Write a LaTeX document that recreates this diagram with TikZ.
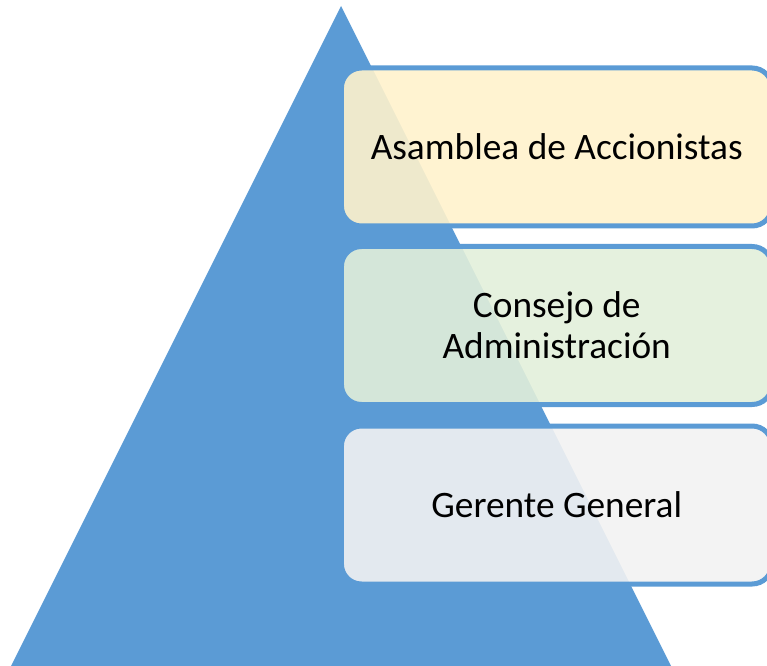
\documentclass[tikz,border=0pt]{standalone}
\usepackage{fontspec}
\setmainfont{Carlito}
\usetikzlibrary{positioning}

\definecolor{piramide}{RGB}{91,155,213}
\definecolor{amarillo}{RGB}{255,242,204}
\definecolor{verde}{RGB}{226,239,218}
\definecolor{gris}{RGB}{242,242,242}

\tikzset{
  nivel/.style={draw=piramide, line width=3.75pt, rounded corners=15pt,
    minimum width=323pt, minimum height=118.5pt, align=center,
    fill opacity=0.9, text opacity=1, inner sep=0.75pt,
    font=\fontsize{28}{31}\selectfont}
}

\begin{document}
\begin{tikzpicture}[x=0.75pt,y=0.75pt,yscale=-1,xscale=1]
\useasboundingbox (0,0) rectangle (767,666);
\clip (0,0) rectangle (767,666);
% Piramide
\fill [piramide] (341,6) -- (11,666) -- (671,666) -- cycle ;
% Niveles
\draw (556.75,147) node (asamblea) [nivel, fill=amarillo] {Asamblea de Accionistas};
\draw (556.75,325.5) node (consejo) [nivel, fill=verde] {Consejo de\\Administración};
\draw (556.75,505) node (gerente) [nivel, fill=gris] {Gerente General};
\end{tikzpicture}
\end{document}
